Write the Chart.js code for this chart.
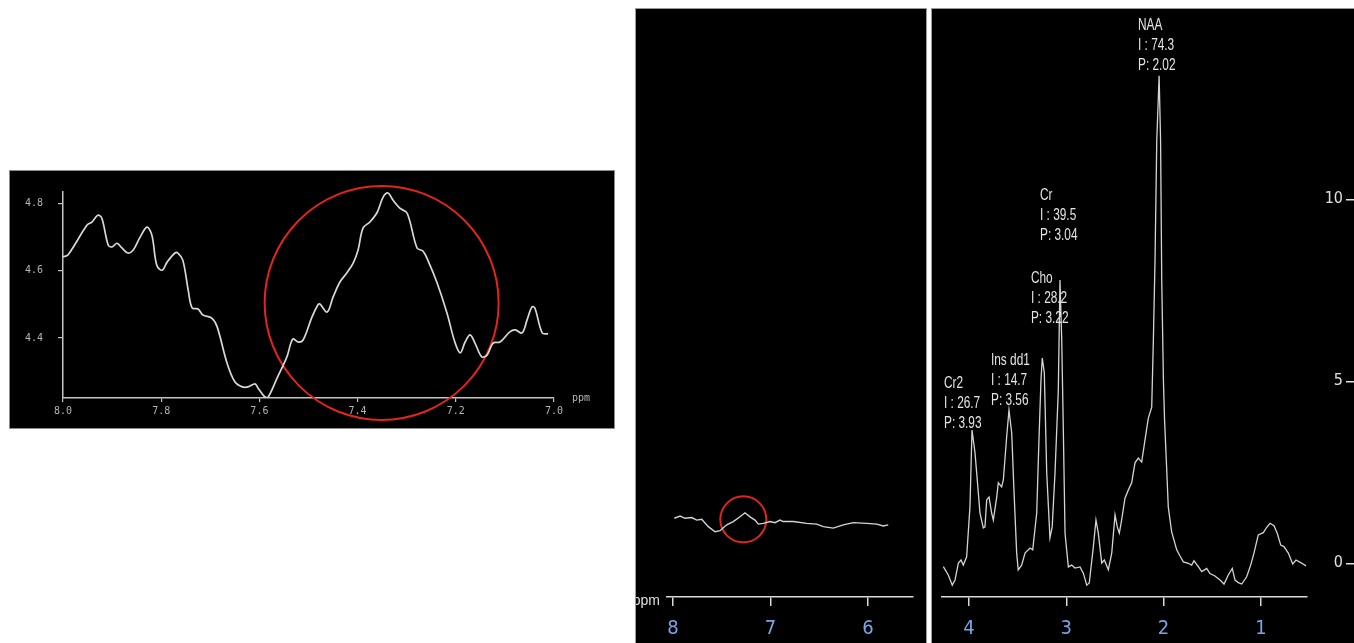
<!DOCTYPE html>
<html>
<head>
<meta charset="utf-8">
<title>MR spectrum</title>
<script src="https://cdn.jsdelivr.net/npm/chart.js@4.4.1/dist/chart.umd.min.js"></script>
<style>
  html, body { margin: 0; padding: 0; background: #fff; }
  body { width: 1354px; height: 643px; overflow: hidden; position: relative; }
  .panel { position: absolute; background: #000; }
  #inset { left: 10px; top: 171px; width: 604px; height: 257px; box-shadow: 0 0 0 1px #8c8c8c; }
  #wide { left: 636px; top: 9px; width: 290px; height: 634px; box-shadow: 0 0 0 1px #9a9a9a; }
  #main { left: 932px; top: 9px; width: 422px; height: 634px; box-shadow: 0 0 0 1px #9a9a9a; }
  canvas { display: block; }
</style>
</head>
<body>
<div class="panel" id="inset"><canvas id="inset-chart" width="604" height="257"></canvas></div>
<div class="panel" id="wide"><canvas id="wide-chart" width="290" height="634"></canvas></div>
<div class="panel" id="main"><canvas id="main-chart" width="422" height="634"></canvas></div>
<script>
// zoomed inset, 8.0 - 7.0 ppm
const insetPpm = [8.000, 7.990, 7.951, 7.941, 7.929, 7.921, 7.908, 7.900, 7.890, 7.880,
  7.868, 7.857, 7.843, 7.829, 7.819, 7.809, 7.798, 7.788, 7.772, 7.766,
  7.756, 7.745, 7.737, 7.725, 7.715, 7.697, 7.686, 7.666, 7.650, 7.635,
  7.623, 7.609, 7.603, 7.589, 7.582, 7.564, 7.544, 7.532, 7.521, 7.511,
  7.493, 7.481, 7.477, 7.462, 7.450, 7.436, 7.422, 7.409, 7.399, 7.389,
  7.375, 7.360, 7.348, 7.338, 7.328, 7.314, 7.299, 7.279, 7.267, 7.257,
  7.238, 7.218, 7.202, 7.191, 7.181, 7.171, 7.161, 7.147, 7.136, 7.124,
  7.110, 7.090, 7.079, 7.065, 7.055, 7.045, 7.039, 7.024, 7.012];
const insetIntensity = [4.641, 4.646, 4.735, 4.744, 4.764, 4.756, 4.676, 4.670, 4.681, 4.667,
  4.652, 4.661, 4.699, 4.729, 4.705, 4.616, 4.601, 4.625, 4.652, 4.652,
  4.631, 4.542, 4.489, 4.486, 4.468, 4.459, 4.433, 4.326, 4.270, 4.255,
  4.255, 4.264, 4.252, 4.225, 4.225, 4.281, 4.344, 4.397, 4.388, 4.394,
  4.462, 4.498, 4.501, 4.477, 4.521, 4.566, 4.593, 4.622, 4.661, 4.726,
  4.744, 4.773, 4.818, 4.830, 4.809, 4.785, 4.770, 4.667, 4.658, 4.631,
  4.563, 4.474, 4.388, 4.356, 4.388, 4.409, 4.385, 4.344, 4.350, 4.385,
  4.388, 4.418, 4.424, 4.415, 4.453, 4.492, 4.489, 4.415, 4.412];
const insetTicksX = [8.0, 7.8, 7.6, 7.4, 7.2, 7.0];
const insetTicksY = [4.4, 4.6, 4.8];
const insetMarkPpm = [7.351];
const insetMarkIntensity = [4.504];

// 8 - 6 ppm panel
const widePpm = [7.987, 7.928, 7.877, 7.808, 7.757, 7.706, 7.638, 7.569, 7.518, 7.449,
  7.382, 7.313, 7.262, 7.210, 7.159, 7.125, 7.074, 7.005, 6.954, 6.903,
  6.869, 6.766, 6.629, 6.526, 6.458, 6.356, 6.253, 6.151, 6.013, 5.911,
  5.843, 5.792];
const wideIntensity = [1.28, 1.34, 1.28, 1.30, 1.23, 1.25, 1.05, 0.91, 0.94, 1.10,
  1.19, 1.32, 1.43, 1.32, 1.23, 1.12, 1.14, 1.19, 1.16, 1.23,
  1.19, 1.19, 1.14, 1.12, 1.05, 1.01, 1.10, 1.16, 1.14, 1.12,
  1.07, 1.10];
const wideTicksX = [8, 7, 6];
const wideMarkPpm = [7.279];
const wideMarkIntensity = [1.25];

// 4.3 - 0.5 ppm panel
const mainPpm = [4.264, 4.213, 4.172, 4.144, 4.110, 4.082, 4.059, 4.024, 3.990, 3.969,
  3.938, 3.921, 3.887, 3.853, 3.836, 3.818, 3.794, 3.767, 3.750, 3.715,
  3.699, 3.664, 3.647, 3.613, 3.589, 3.561, 3.538, 3.510, 3.494, 3.459,
  3.424, 3.373, 3.345, 3.304, 3.281, 3.260, 3.247, 3.226, 3.201, 3.168,
  3.145, 3.116, 3.082, 3.065, 3.047, 3.031, 3.013, 2.979, 2.944, 2.911,
  2.859, 2.825, 2.790, 2.764, 2.722, 2.695, 2.671, 2.636, 2.609, 2.568,
  2.533, 2.499, 2.476, 2.455, 2.431, 2.397, 2.363, 2.328, 2.294, 2.260,
  2.225, 2.191, 2.157, 2.122, 2.105, 2.088, 2.070, 2.046, 2.031, 2.019,
  2.002, 1.990, 1.969, 1.952, 1.917, 1.865, 1.831, 1.797, 1.746, 1.711,
  1.688, 1.643, 1.608, 1.557, 1.523, 1.472, 1.420, 1.379, 1.335, 1.294,
  1.266, 1.232, 1.197, 1.146, 1.105, 1.071, 1.027, 0.975, 0.940, 0.906,
  0.865, 0.831, 0.796, 0.763, 0.718, 0.673, 0.639, 0.591, 0.536];
const mainIntensity = [-0.09, -0.32, -0.60, -0.46, 0.00, 0.09, -0.05, 0.18, 1.56, 3.66,
  3.03, 2.48, 1.38, 0.97, 1.00, 1.74, 1.82, 1.38, 1.19, 1.82,
  2.21, 2.10, 2.29, 3.47, 4.21, 3.58, 2.01, 0.28, -0.18, -0.05,
  0.28, 0.42, 0.37, 1.38, 3.39, 5.04, 5.64, 5.23, 2.48, 0.70,
  1.00, 2.48, 4.76, 7.78, 6.14, 3.75, 0.83, -0.10, -0.05, -0.13,
  -0.10, -0.27, -0.60, -0.54, 0.45, 1.19, 0.83, 0.01, 0.09, -0.18,
  0.28, 1.33, 1.00, 0.83, 1.19, 1.79, 2.01, 2.21, 2.76, 2.89,
  2.78, 3.39, 3.99, 4.29, 6.14, 8.33, 11.63, 13.39, 11.63, 7.78,
  5.04, 3.94, 2.65, 1.55, 0.86, 0.37, 0.20, 0.04, 0.00, -0.05,
  0.07, -0.09, -0.23, -0.14, -0.28, -0.35, -0.46, -0.57, -0.32, -0.14,
  -0.46, -0.53, -0.57, -0.37, -0.05, 0.28, 0.78, 0.84, 0.99, 1.10,
  1.03, 0.82, 0.50, 0.46, 0.28, -0.02, 0.09, 0.02, -0.07];
const mainTicksX = [4, 3, 2, 1];
const mainTicksY = [0, 5, 10];

// fitted peaks, label anchored at (labelPpm, labelLevel) in data units
const peakNames = ['NAA', 'Cr', 'Cho', 'Ins dd1', 'Cr2'];
const peakIntegrals = [74.3, 39.5, 28.2, 14.7, 26.7];
const peakPositions = [2.02, 3.04, 3.22, 3.56, 3.93];
const peakLabelPpm = [2.263, 3.270, 3.363, 3.774, 4.257];
const peakLabelLevels = [13.55, 8.88, 6.6, 4.35, 3.73];

const narrow = "'Liberation Sans Narrow', 'DejaVu Sans Condensed', 'Liberation Sans', sans-serif";
const tickBlue = '#79a6e6';

function toPoints(xs, ys) {
  return xs.map((x, i) => ({ x: x, y: ys[i] }));
}

function fixedTicks(values) {
  return function(scale) {
    scale.ticks = values.map(v => ({ value: v }));
  };
}

// "ppm" next to the x axis
function ppmLabel(font, color, side, gap, dy) {
  return {
    id: 'ppmLabel',
    afterDraw(chart) {
      const x = chart.scales.x;
      const ctx = chart.ctx;
      ctx.save();
      ctx.font = font;
      ctx.fillStyle = color;
      ctx.textBaseline = 'middle';
      if (side === 'right') {
        ctx.textAlign = 'left';
        ctx.fillText('ppm', x.right + gap, x.top + dy);
      } else {
        ctx.textAlign = 'right';
        ctx.fillText('ppm', x.left - gap, x.top + dy);
      }
      ctx.restore();
    }
  };
}

const peakLabels = {
  id: 'peakLabels',
  afterDatasetsDraw(chart) {
    const { ctx, scales: { x, y } } = chart;
    ctx.save();
    ctx.fillStyle = '#e4e4e4';
    ctx.font = "16px 'Liberation Sans', sans-serif";
    ctx.textAlign = 'left';
    ctx.textBaseline = 'alphabetic';
    peakNames.forEach((name, i) => {
      const left = x.getPixelForValue(peakLabelPpm[i]);
      const bottom = y.getPixelForValue(peakLabelLevels[i]);
      const lines = [name, 'I : ' + peakIntegrals[i].toFixed(1), 'P: ' + peakPositions[i].toFixed(2)];
      lines.forEach((t, k) => {
        ctx.save();
        ctx.translate(left, bottom - (lines.length - 1 - k) * 20);
        ctx.scale(0.74, 1);
        ctx.fillText(t, 0, 0);
        ctx.restore();
      });
    });
    ctx.restore();
  }
};

Chart.defaults.animation = false;
Chart.defaults.events = [];
Chart.defaults.plugins.legend.display = false;
Chart.defaults.plugins.tooltip.enabled = false;

// inset
new Chart(document.getElementById('inset-chart'), {
  type: 'scatter',
  data: {
    datasets: [{
      data: toPoints(insetPpm, insetIntensity),
      showLine: true,
      borderColor: '#d8d8d8',
      borderWidth: 1.7,
      pointRadius: 0,
      tension: 0.35
    }, {
      data: toPoints(insetMarkPpm, insetMarkIntensity),
      pointRadius: 117,
      pointBorderWidth: 2,
      pointBorderColor: '#e3251b',
      pointBackgroundColor: 'rgba(0,0,0,0)',
      clip: false
    }]
  },
  options: {
    responsive: false,
    layout: { autoPadding: false, padding: { top: 21, right: 60, left: 0, bottom: 0 } },
    scales: {
      x: {
        type: 'linear',
        reverse: true,
        min: 7.0,
        max: 8.0,
        afterBuildTicks: fixedTicks(insetTicksX),
        afterFit: s => { s.height = 30; s.paddingLeft = 0; s.paddingRight = 0; },
        grid: { drawOnChartArea: false, tickLength: 4, color: '#c4c4c4', lineWidth: 1.2 },
        border: { color: '#c4c4c4', width: 1.5 },
        ticks: {
          color: '#b4b4b4',
          padding: 3,
          maxRotation: 0,
          font: { family: "'DejaVu Sans Mono', monospace", size: 10 },
          callback: v => v.toFixed(1)
        }
      },
      y: {
        min: 4.222,
        max: 4.833,
        afterBuildTicks: fixedTicks(insetTicksY),
        afterFit: s => { s.width = 53; s.paddingTop = 0; s.paddingBottom = 0; },
        grid: { drawOnChartArea: false, tickLength: 5, color: '#c4c4c4', lineWidth: 1.2 },
        border: { color: '#c4c4c4', width: 1.5 },
        ticks: {
          color: '#b4b4b4',
          padding: 15,
          font: { family: "'DejaVu Sans Mono', monospace", size: 10 },
          callback: v => v.toFixed(1)
        }
      }
    }
  },
  plugins: [ppmLabel("10px 'DejaVu Sans Mono', monospace", '#b4b4b4', 'right', 18, 0)]
});

// 8 - 6 ppm panel
new Chart(document.getElementById('wide-chart'), {
  type: 'scatter',
  data: {
    datasets: [{
      data: toPoints(widePpm, wideIntensity),
      showLine: true,
      borderColor: '#d4d4d4',
      borderWidth: 1.4,
      pointRadius: 0,
      tension: 0
    }, {
      data: toPoints(wideMarkPpm, wideMarkIntensity),
      pointRadius: 23,
      pointBorderWidth: 2,
      pointBorderColor: '#e3251b',
      pointBackgroundColor: 'rgba(0,0,0,0)',
      clip: false
    }]
  },
  options: {
    responsive: false,
    layout: { autoPadding: false, padding: { top: 1, right: 13, left: 31, bottom: 0 } },
    scales: {
      x: {
        type: 'linear',
        reverse: true,
        min: 5.538,
        max: 8.062,
        afterBuildTicks: fixedTicks(wideTicksX),
        afterFit: s => { s.height = 46; s.paddingLeft = 0; s.paddingRight = 0; },
        grid: { drawOnChartArea: false, tickLength: 9, color: '#d8d8d8', lineWidth: 1.5 },
        border: { color: '#d8d8d8', width: 1.5 },
        ticks: {
          color: tickBlue,
          padding: 11,
          maxRotation: 0,
          font: { family: narrow, size: 20 }
        }
      },
      y: {
        display: false,
        min: -0.877,
        max: 15.205
      }
    }
  },
  plugins: [ppmLabel("14px 'Liberation Sans', sans-serif", '#e0e0e0', 'left', 7, 4)]
});

// 4.3 - 0.5 ppm panel
new Chart(document.getElementById('main-chart'), {
  type: 'scatter',
  data: {
    datasets: [{
      data: toPoints(mainPpm, mainIntensity),
      showLine: true,
      borderColor: '#d4d4d4',
      borderWidth: 1.3,
      pointRadius: 0,
      tension: 0
    }]
  },
  options: {
    responsive: false,
    layout: { autoPadding: false, padding: { top: 1, right: 0, left: 10, bottom: 0 } },
    scales: {
      x: {
        type: 'linear',
        reverse: true,
        min: 0.526,
        max: 4.2775,
        afterBuildTicks: fixedTicks(mainTicksX),
        afterFit: s => { s.height = 46; s.paddingLeft = 0; s.paddingRight = 0; },
        grid: { drawOnChartArea: false, tickLength: 9, color: '#d8d8d8', lineWidth: 1.5 },
        border: { color: '#d8d8d8', width: 1.5 },
        ticks: {
          color: tickBlue,
          padding: 11,
          maxRotation: 0,
          font: { family: narrow, size: 20 }
        }
      },
      y: {
        position: 'right',
        weight: 0,
        min: -0.926,
        max: 15.2,
        afterBuildTicks: fixedTicks(mainTicksY),
        afterFit: s => { s.width = 39; s.paddingTop = 0; s.paddingBottom = 0; },
        grid: { display: false, drawTicks: false },
        border: { display: false },
        ticks: {
          mirror: true,
          crossAlign: 'near',
          padding: 36,
          color: '#e0e0e0',
          font: { family: narrow, size: 16 }
        }
      },
      y2: {
        position: 'right',
        weight: 1,
        min: -0.926,
        max: 15.2,
        afterBuildTicks: fixedTicks(mainTicksY),
        afterFit: s => { s.paddingTop = 0; s.paddingBottom = 0; },
        grid: { drawOnChartArea: false, tickLength: 8, color: '#e0e0e0', lineWidth: 1.5 },
        border: { display: false },
        ticks: { display: false }
      }
    }
  },
  plugins: [peakLabels]
});
</script>
</body>
</html>
